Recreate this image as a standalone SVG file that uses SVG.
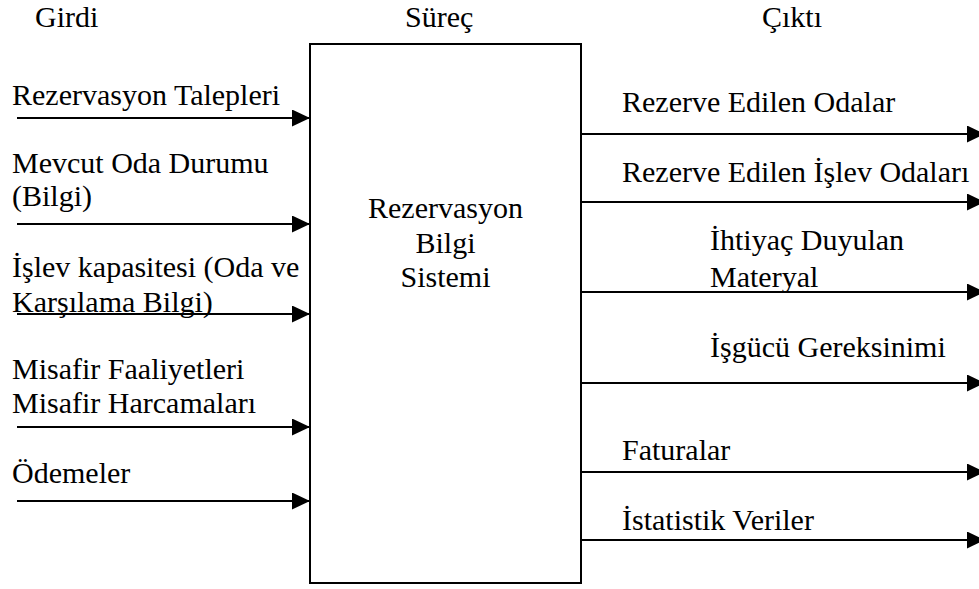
<svg xmlns="http://www.w3.org/2000/svg" width="979" height="589" viewBox="0 0 979 589">
<style>
  .t { font-size: 30px; fill: #000; font-family: "Liberation Serif", "Times New Roman", serif; }
  .c { text-anchor: middle; }
  .conn { stroke: #000; stroke-width: 2; fill: none; marker-end: url(#ah); }
  .box { fill: #fff; stroke: #000; stroke-width: 2; }
</style>
<defs>
  <marker id="ah" markerUnits="userSpaceOnUse" markerWidth="18" markerHeight="17" refX="18" refY="8.5" orient="auto">
    <path d="M0,0 L18,8.5 L0,17 z" fill="#000"/>
  </marker>
</defs>
<rect width="979" height="589" fill="#fff"/>
<g id="headers" class="t">
  <text x="35" y="27">Girdi</text>
  <text x="405" y="27">Süreç</text>
  <text x="762" y="27">Çıktı</text>
</g>
<g id="process" class="t">
  <rect class="box" x="310" y="44" width="271" height="539"/>
  <text class="c" x="445.5" y="218">Rezervasyon</text>
  <text class="c" x="445.5" y="253">Bilgi</text>
  <text class="c" x="445.5" y="287">Sistemi</text>
</g>
<g id="inputs" class="t">
  <text x="12" y="105">Rezervasyon Talepleri</text>
  <text x="12" y="173">Mevcut Oda Durumu</text>
  <text x="12" y="206">(Bilgi)</text>
  <text x="12" y="277">İşlev kapasitesi (Oda ve</text>
  <text x="12" y="312">Karşılama Bilgi)</text>
  <text x="12" y="379">Misafir Faaliyetleri</text>
  <text x="12" y="413">Misafir Harcamaları</text>
  <text x="12" y="483">Ödemeler</text>
</g>
<g id="outputs" class="t">
  <text x="622" y="112">Rezerve Edilen Odalar</text>
  <text x="622" y="182">Rezerve Edilen İşlev Odaları</text>
  <text x="710" y="250">İhtiyaç Duyulan</text>
  <text x="710" y="287">Materyal</text>
  <text x="710" y="357">İşgücü Gereksinimi</text>
  <text x="622" y="460">Faturalar</text>
  <text x="622" y="530">İstatistik Veriler</text>
</g>
<g id="connectors">
  <line class="conn" x1="17" y1="118" x2="310" y2="118"/>
  <line class="conn" x1="17" y1="224" x2="310" y2="224"/>
  <line class="conn" x1="17" y1="314" x2="310" y2="314"/>
  <line class="conn" x1="17" y1="427" x2="310" y2="427"/>
  <line class="conn" x1="17" y1="501" x2="310" y2="501"/>
  <line class="conn" x1="581" y1="134" x2="985" y2="134"/>
  <line class="conn" x1="581" y1="202" x2="985" y2="202"/>
  <line class="conn" x1="581" y1="292" x2="985" y2="292"/>
  <line class="conn" x1="581" y1="383" x2="985" y2="383"/>
  <line class="conn" x1="581" y1="472" x2="985" y2="472"/>
  <line class="conn" x1="581" y1="540" x2="985" y2="540"/>
</g>
</svg>
